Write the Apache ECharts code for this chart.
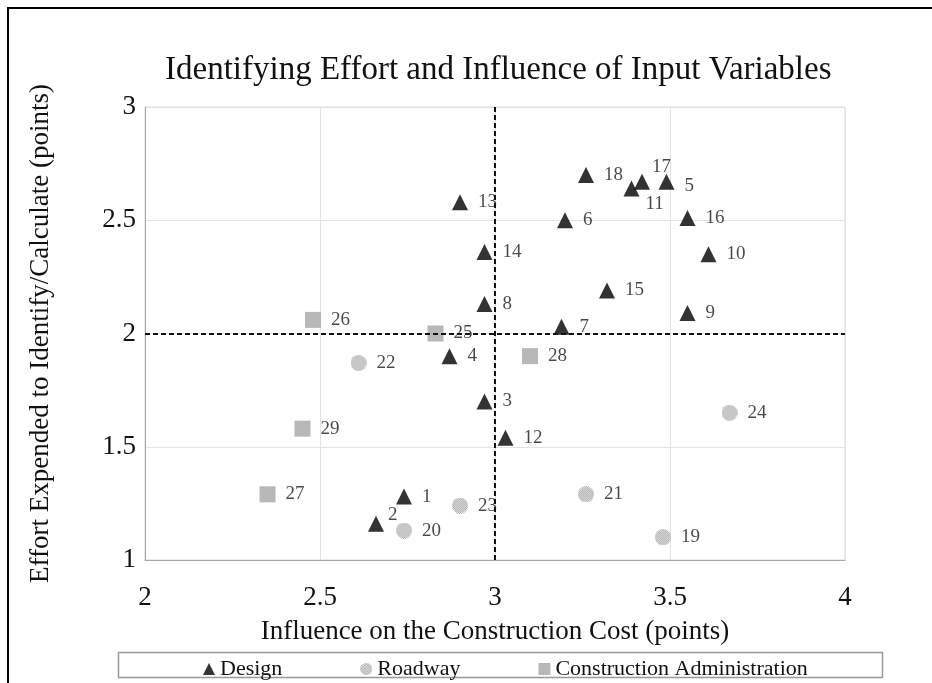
<!DOCTYPE html>
<html>
<head>
<meta charset="utf-8">
<script src="https://cdn.jsdelivr.net/npm/echarts@6/dist/echarts.min.js"></script>
<style>
  html, body { margin: 0; padding: 0; background: #fff; }
  #chart { width: 932px; height: 683px; }
</style>
</head>
<body>
<div id="chart"></div>
<script>
// Design
const designIds = [1, 2, 3, 4, 5, 6, 7, 8, 9, 10, 11, 12, 13, 14, 15, 16, 17, 18];
const designInfluence = [2.74, 2.66, 2.97, 2.87, 3.49, 3.20, 3.19, 2.97, 3.55, 3.61, 3.39, 3.03, 2.90, 2.97, 3.32, 3.55, 3.42, 3.26];
const designEffort = [1.28, 1.16, 1.70, 1.90, 2.67, 2.50, 2.03, 2.13, 2.09, 2.35, 2.64, 1.54, 2.58, 2.36, 2.19, 2.51, 2.67, 2.70];
// Roadway
const roadIds = [19, 20, 21, 22, 23, 24];
const roadInfluence = [3.48, 2.74, 3.26, 2.61, 2.90, 3.67];
const roadEffort = [1.10, 1.13, 1.29, 1.87, 1.24, 1.65];
// Construction Administration
const adminIds = [25, 26, 27, 28, 29];
const adminInfluence = [2.83, 2.48, 2.35, 3.10, 2.45];
const adminEffort = [2.00, 2.06, 1.29, 1.90, 1.58];

const axisTicks = [2, 2.5, 3, 3.5, 4];
const effortTicks = [1, 1.5, 2, 2.5, 3];
const splitInfluence = 3;
const splitEffort = 2;

const serif = "'Liberation Serif', 'Times New Roman', serif";

// dotted circle marker for roadway
const makeDotted = size => {
  const c = document.createElement("canvas");
  c.width = size;
  c.height = size;
  const ctx = c.getContext("2d");
  ctx.beginPath();
  ctx.arc(size / 2, size / 2, size / 2, 0, Math.PI * 2);
  ctx.clip();
  ctx.fillStyle = "#e4e4e4";
  ctx.fillRect(0, 0, size, size);
  ctx.fillStyle = "#8f8f8f";
  for (let y = 0; y < size; y++) {
    for (let x = (y % 2); x < size; x += 2) ctx.fillRect(x, y, 1, 1);
  }
  return "image://" + c.toDataURL();
};
const dottedSymbol = makeDotted(16);

// label placement tweaks for crowded points
const labelTweak = {
  2: { position: "right", offset: [-6, -9] },
  5: { position: "right", offset: [0, 4] },
  11: { position: "right", offset: [-4, 15] },
  17: { position: "right", offset: [-8, -15] }
};

const pts = (ids, xs, ys) =>
  ids.map((id, i) => {
    const d = { value: [xs[i], ys[i], id] };
    if (labelTweak[id]) d.label = labelTweak[id];
    return d;
  });

const labelStyle = {
  show: true,
  position: "right",
  distance: 10,
  color: "#1a1a1a",
  fontFamily: serif,
  fontSize: 19,
  formatter: p => p.value[2]
};

const chart = echarts.init(document.getElementById("chart"));
chart.setOption({
  animation: false,
  textStyle: { fontFamily: serif },
  title: {
    text: "Identifying Effort and Influence of Input Variables",
    left: 160,
    top: 49,
    textStyle: { fontFamily: serif, fontSize: 33, fontWeight: "normal", color: "#111" }
  },
  legend: {
    left: 198,
    top: 653,
    itemGap: 78,
    itemWidth: 12,
    itemHeight: 12,
    textStyle: { fontFamily: serif, fontSize: 22, color: "#111" },
    data: ["Design", "Roadway", "Construction Administration"]
  },
  grid: {
    left: 145,
    right: 87,
    top: 107,
    bottom: 123,
    show: true,
    borderColor: "#d9d9d9",
    borderWidth: 1
  },
  xAxis: {
    type: "value",
    min: 2,
    max: 4,
    interval: 0.5,
    name: "Influence on the Construction Cost (points)",
    nameLocation: "middle",
    nameGap: 58,
    nameTextStyle: { fontFamily: serif, fontSize: 27, color: "#111" },
    axisLine: { show: true, lineStyle: { color: "#a6a6a6" } },
    axisTick: { show: false },
    axisLabel: { fontFamily: serif, fontSize: 27, color: "#111", margin: 24,
      formatter: v => (axisTicks.includes(v) ? String(v) : "") },
    splitLine: { show: true, lineStyle: { color: "#e3e3e3" } }
  },
  yAxis: {
    type: "value",
    min: 1,
    max: 3,
    interval: 0.5,
    name: "Effort Expended to Identify/Calculate (points)",
    nameLocation: "middle",
    nameGap: 91,
    nameTextStyle: { fontFamily: serif, fontSize: 27, color: "#111" },
    axisLine: { show: true, lineStyle: { color: "#a6a6a6" } },
    axisTick: { show: false },
    axisLabel: { fontFamily: serif, fontSize: 27, color: "#111", margin: 9,
      formatter: v => (effortTicks.includes(v) ? String(v) : "") },
    splitLine: { show: true, lineStyle: { color: "#e3e3e3" } }
  },
  series: [
    {
      name: "Design",
      type: "scatter",
      symbol: "triangle",
      symbolSize: 16,
      itemStyle: { color: "#000" },
      label: labelStyle,
      data: pts(designIds, designInfluence, designEffort),
      z: 3,
      markLine: {
        silent: true,
        symbol: "none",
        label: { show: false },
        lineStyle: { color: "#111", type: [5, 3], width: 2 },
        data: [{ xAxis: splitInfluence }, { yAxis: splitEffort }]
      }
    },
    {
      name: "Roadway",
      type: "scatter",
      symbol: dottedSymbol,
      symbolSize: 16,
      itemStyle: { color: "#b5b5b5" },
      label: labelStyle,
      data: pts(roadIds, roadInfluence, roadEffort),
      z: 3
    },
    {
      name: "Construction Administration",
      type: "scatter",
      symbol: "rect",
      symbolSize: 16,
      itemStyle: { color: "#a6a6a6" },
      label: labelStyle,
      data: pts(adminIds, adminInfluence, adminEffort),
      z: 3
    }
  ],
  graphic: [
    {
      type: "polyline",
      shape: { points: [[8, 683], [8, 8], [932, 8]] },
      style: { stroke: "#000", lineWidth: 2, fill: null }
    },
    {
      type: "rect",
      shape: { x: 118.5, y: 652.5, width: 764, height: 25 },
      style: { stroke: "#999", lineWidth: 1.5, fill: null }
    }
  ]
});
</script>
</body>
</html>
